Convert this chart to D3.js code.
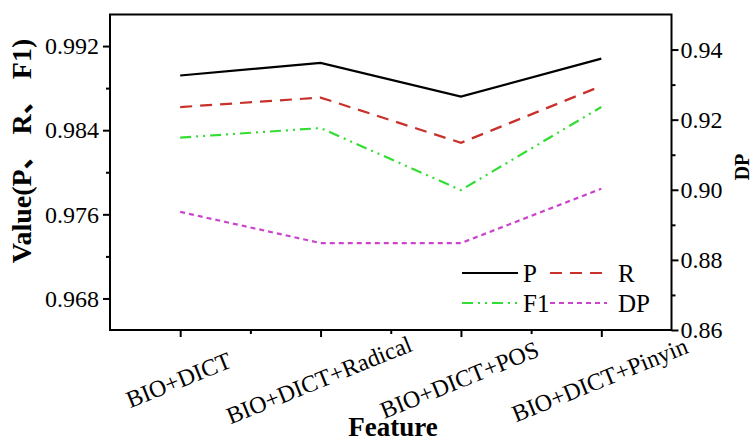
<!DOCTYPE html>
<html lang="en">
	<head>
		<meta charset="utf-8">
		<title>Feature comparison</title>
		<script type="text/javascript" src="https://cdn.jsdelivr.net/npm/d3@7"></script>
		<style type="text/css">
			body { margin: 0; background: #fff; }
		</style>
	</head>
	<body>
		<div id="chart"></div>
		<script type="text/javascript">

			//Data
			var features = ["BIO+DICT", "BIO+DICT+Radical", "BIO+DICT+POS", "BIO+DICT+Pinyin"];
			var pValues = [0.9892, 0.9904, 0.9872, 0.9908];
			var rValues = [0.9862, 0.9871, 0.9828, 0.9882];
			var f1Values = [0.9833, 0.9842, 0.9783, 0.9862];
			var dpValues = [0.8937, 0.8848, 0.8848, 0.9003];

			var leftTicks = [0.968, 0.976, 0.984, 0.992];
			var leftMinor = [0.972, 0.980, 0.988];
			var rightTicks = [0.86, 0.88, 0.90, 0.92, 0.94];
			var rightMinor = [0.87, 0.89, 0.91, 0.93];

			//Width and height
			var w = 753;
			var h = 442;
			var plotL = 110, plotR = 671.5, plotT = 14.5, plotB = 330;

			var font = "'Liberation Serif', 'Times New Roman', 'Noto Sans CJK SC', serif";

			var svg = d3.select("#chart")
						.append("svg")
						.attr("width", w)
						.attr("height", h);

			//Scales
			var x = d3.scaleLinear()
						.domain([-0.5, features.length - 0.5])
						.range([plotL, plotR]);

			var yL = d3.scaleLinear()
						.domain([0.965, 0.995])
						.range([plotB, plotT]);

			var yR = d3.scaleLinear()
						.domain([0.86, 0.95])
						.range([plotB, plotT]);

			//Axes
			function styleAxis(g) {
				g.attr("font-family", font);
				g.select(".domain").remove();
				g.selectAll("line").attr("stroke", "#000").attr("stroke-width", 2);
				g.selectAll("text")
				 .attr("font-family", font)
				 .attr("font-size", "24px")
				 .attr("fill", "#000");
			}

			svg.append("g")
			   .attr("transform", "translate(" + plotL + ",0)")
			   .call(d3.axisLeft(yL).tickValues(leftTicks).tickFormat(d3.format(".3f")).tickSize(7).tickPadding(4))
			   .call(styleAxis);

			svg.append("g")
			   .attr("transform", "translate(" + plotL + ",0)")
			   .call(d3.axisLeft(yL).tickValues(leftMinor).tickFormat("").tickSize(4))
			   .call(styleAxis);

			svg.append("g")
			   .attr("transform", "translate(" + plotR + ",0)")
			   .call(d3.axisRight(yR).tickValues(rightTicks).tickFormat(d3.format(".2f")).tickSize(7).tickPadding(2))
			   .call(styleAxis);

			svg.append("g")
			   .attr("transform", "translate(" + plotR + ",0)")
			   .call(d3.axisRight(yR).tickValues(rightMinor).tickFormat("").tickSize(4))
			   .call(styleAxis);

			var xAxis = svg.append("g")
			   .attr("transform", "translate(0," + plotB + ")")
			   .call(d3.axisBottom(x).tickValues(d3.range(features.length)).tickFormat(function(d){ return features[d]; }).tickSize(7))
			   .call(styleAxis);

			//rotated category labels, centred under each tick
			xAxis.selectAll("text")
				 .attr("y", 0)
				 .attr("dy", null)
				 .attr("text-anchor", "middle")
				 .attr("dominant-baseline", "central")
				 .attr("transform", "translate(-2,50) rotate(-22)");

			svg.append("g")
			   .attr("transform", "translate(0," + plotB + ")")
			   .call(d3.axisBottom(x).tickValues(d3.range(features.length - 1).map(function(d){ return d + 0.5; })).tickFormat("").tickSize(4))
			   .call(styleAxis);

			//Frame
			svg.append("rect")
			   .attr("x", plotL)
			   .attr("y", plotT)
			   .attr("width", plotR - plotL)
			   .attr("height", plotB - plotT)
			   .attr("fill", "none")
			   .attr("stroke", "#000")
			   .attr("stroke-width", 2);

			//Lines
			var series = [
				{name: "P", values: pValues, scale: yL, color: "#000000", dash: null},
				{name: "R", values: rValues, scale: yL, color: "#c8312b", dash: "12,8"},
				{name: "F1", values: f1Values, scale: yL, color: "#33dd33", dash: "11,5,2,5,2,5"},
				{name: "DP", values: dpValues, scale: yR, color: "#cc44cc", dash: "5,4"}
			];

			series.forEach(function(s) {
				var line = d3.line()
							 .x(function(d, i) { return x(i); })
							 .y(function(d) { return s.scale(d); });
				svg.append("path")
				   .datum(s.values)
				   .attr("d", line)
				   .attr("fill", "none")
				   .attr("stroke", s.color)
				   .attr("stroke-width", 2.2)
				   .attr("stroke-dasharray", s.dash);
			});

			//Legend
			var legendPos = [
				{x: 462, y: 273},
				{x: 550, y: 273},
				{x: 462, y: 303},
				{x: 550, y: 303}
			];

			var legend = svg.selectAll(".legend")
							.data(series)
							.enter()
							.append("g")
							.attr("class", "legend")
							.attr("transform", function(d, i) {
								return "translate(" + legendPos[i].x + "," + legendPos[i].y + ")";
							});

			legend.append("line")
				  .attr("x1", 0)
				  .attr("x2", function(d, i) { return i % 2 == 0 ? 56 : 57; })
				  .attr("y1", 0)
				  .attr("y2", 0)
				  .attr("stroke", function(d) { return d.color; })
				  .attr("stroke-width", 2.2)
				  .attr("stroke-dasharray", function(d) { return d.dash; });

			legend.append("text")
				  .attr("x", function(d, i) { return i % 2 == 0 ? 61 : 68; })
				  .attr("y", 9)
				  .attr("font-family", font)
				  .attr("font-size", "25px")
				  .attr("fill", "#000")
				  .text(function(d) { return d.name; });

			//Axis titles
			svg.append("text")
			   .attr("transform", "translate(31,151) rotate(-90)")
			   .attr("text-anchor", "middle")
			   .attr("font-family", font)
			   .attr("font-weight", "bold")
			   .attr("font-size", "28px")
			   .text("Value(P、 R、 F1)");

			svg.append("text")
			   .attr("transform", "translate(749,167) rotate(-90)")
			   .attr("text-anchor", "middle")
			   .attr("font-family", font)
			   .attr("font-weight", "bold")
			   .attr("font-size", "20px")
			   .text("DP");

			svg.append("text")
			   .attr("x", 393)
			   .attr("y", 436)
			   .attr("text-anchor", "middle")
			   .attr("font-family", font)
			   .attr("font-weight", "bold")
			   .attr("font-size", "27px")
			   .text("Feature");

		</script>
	</body>
</html>
